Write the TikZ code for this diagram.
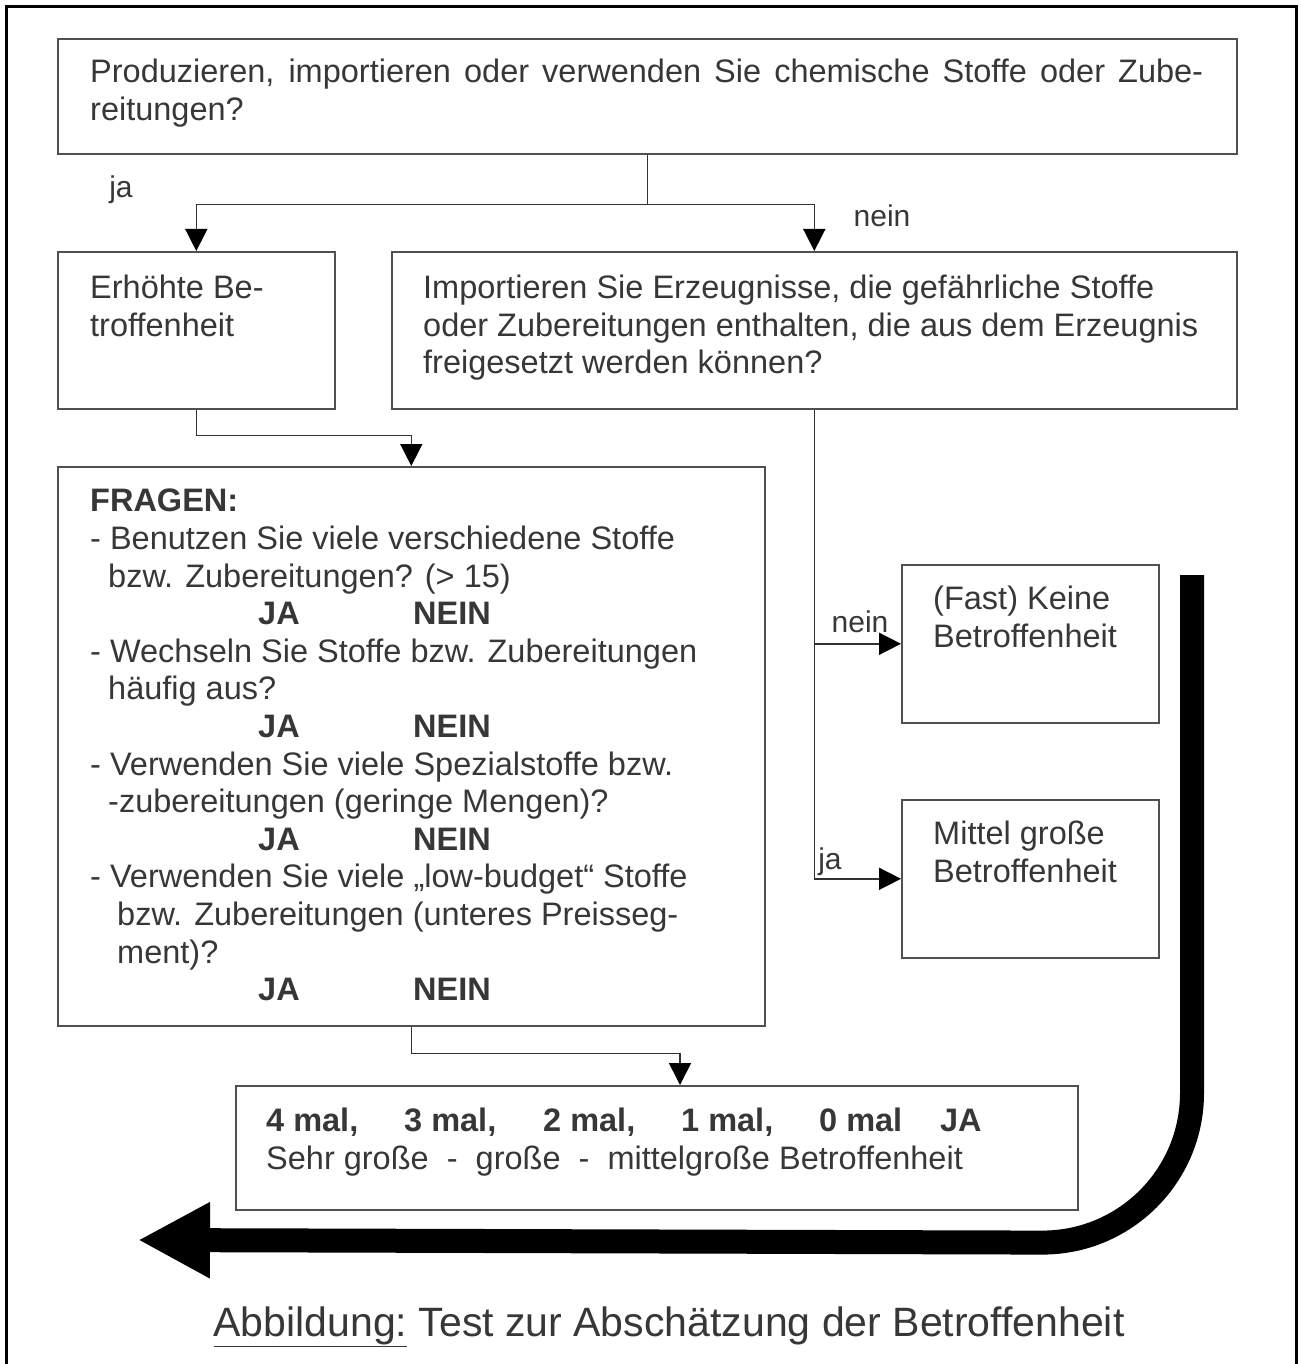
\documentclass[tikz,border=0pt]{standalone}
\usepackage{fontspec}
\setmainfont{Liberation Sans}
\usetikzlibrary{arrows.meta,positioning,calc}
\definecolor{boxgray}{RGB}{80,80,80}
\definecolor{linegray}{RGB}{50,50,50}
\definecolor{textgray}{RGB}{55,55,55}
\tikzset{
  box/.style={draw=boxgray, line width=1.6pt, anchor=north west, inner sep=0pt},
  txt/.style={font=\fontsize{32.5}{37.6}\selectfont, text=textgray, align=left, anchor=north west, inner sep=0pt},
  lab/.style={font=\fontsize{30}{32}\selectfont, text=textgray, inner sep=0pt},
  conn/.style={draw=linegray, line width=1.6pt},
  arr/.style={conn, -{Triangle[length=22pt,width=22pt,color=black]}},
}
\newcommand{\janein}[1]{\hspace*{#1}\makebox[155pt][l]{\textbf{JA}}\textbf{NEIN}}

\begin{document}
\begin{tikzpicture}[x=1pt, y=-1pt]
    \useasboundingbox (0,0) rectangle (1300,1364);
    % Frame
    \draw[line width=3pt] (6,1364) -- (6,7) -- (1296,7) -- (1296,1364);

    % Boxes
    \node[box, minimum width=1179pt, minimum height=115pt] (q1) at (57,38) {};
    \node[box, minimum width=277pt, minimum height=157pt] (erh) at (57,251) {};
    \node[box, minimum width=845pt, minimum height=157pt] (imp) at (391,251) {};
    \node[box, minimum width=707pt, minimum height=559pt] (fragen) at (57,466) {};
    \node[box, minimum width=257pt, minimum height=158pt] (keine) at (901,564) {};
    \node[box, minimum width=257pt, minimum height=158pt] (mittel) at (901,799) {};
    \node[box, minimum width=842pt, minimum height=124pt] (ergebnis) at (235,1085) {};

    % Texts
    \node[txt] (q1txt) at ($(q1.north west)+(33,21)$)
        {\makebox[1113pt][s]{Produzieren, importieren oder verwenden Sie chemische Stoffe oder Zube-}\\reitungen?};
    \node[txt] (erhtxt) at ($(erh.north west)+(33,24)$) {Erhöhte Be-\\troffenheit};
    \node[txt] (imptxt) at ($(imp.north west)+(32,24)$)
        {Importieren Sie Erzeugnisse, die gefährliche Stoffe\\
         oder Zubereitungen enthalten, die aus dem Erzeugnis\\
         freigesetzt werden können?};
    \node[txt] (fragentxt) at ($(fragen.north west)+(33,23)$)
        {\textbf{FRAGEN:}\\
         - Benutzen Sie viele verschiedene Stoffe\\
         \hspace*{18pt}bzw. Zubereitungen? (> 15)\\
         \janein{168pt}\\
         - Wechseln Sie Stoffe bzw. Zubereitungen\\
         \hspace*{18pt}häufig aus?\\
         \janein{168pt}\\
         - Verwenden Sie viele Spezialstoffe bzw.\\
         \hspace*{18pt}-zubereitungen (geringe Mengen)?\\
         \janein{168pt}\\
         - Verwenden Sie viele „low-budget“ Stoffe\\
         \hspace*{27pt}bzw. Zubereitungen (unteres Preisseg-\\
         \hspace*{27pt}ment)?\\
         \janein{168pt}};
    \node[txt] (keinetxt) at ($(keine.north west)+(32,22)$) {(Fast) Keine\\Betroffenheit};
    \node[txt] (mitteltxt) at ($(mittel.north west)+(32,22)$) {Mittel große\\Betroffenheit};
    \node[txt] (ergtxt) at ($(ergebnis.north west)+(31,23)$)
        {\textbf{\makebox[138pt][l]{4 mal,}\makebox[139pt][l]{3 mal,}\makebox[138pt][l]{2 mal,}\makebox[138pt][l]{1 mal,}\makebox[121pt][l]{0 mal}JA}\\
         Sehr große\ \ -\ \ große\ \ -\ \ mittelgroße Betroffenheit};

    % Connectors
    \draw[conn] (q1.south) -- ++(0,50) coordinate (split);
    \draw[arr] (split) -| (erh.north);
    \draw[arr] (split) -| (imp.north);
    \draw[arr] (erh.south) -- ++(0,26) -| (fragen.north);
    \draw[arr] (imp.south) |- (mittel.west);
    \draw[arr] (imp.south |- keine.west) -- (keine.west);
    \coordinate (ergin) at ($(ergebnis.north west)+(445,0)$);
    \draw[arr] (fragen.south) -- ++(0,27) -| (ergin);

    % Branch labels
    \node[lab] (lja) at (121,190) {ja};
    \node[lab] (lnein) at (882,216) {nein};
    \node[lab] (knein) at (860,622) {nein};
    \node[lab] (kja) at (830,862) {ja};

    % Big return arrow
    \draw[line width=24pt, rounded corners=150pt, -{Triangle[length=72pt,width=71pt]}]
        (1192,575) -- (1192,1243) -- (138,1240);

    % Caption
    \node[font=\fontsize{41}{44}\selectfont, text=textgray, inner sep=0pt] (caption) at (669,1327)
        {\underline{Abbildung:} Test zur Abschätzung der Betroffenheit};
\end{tikzpicture}
\end{document}
